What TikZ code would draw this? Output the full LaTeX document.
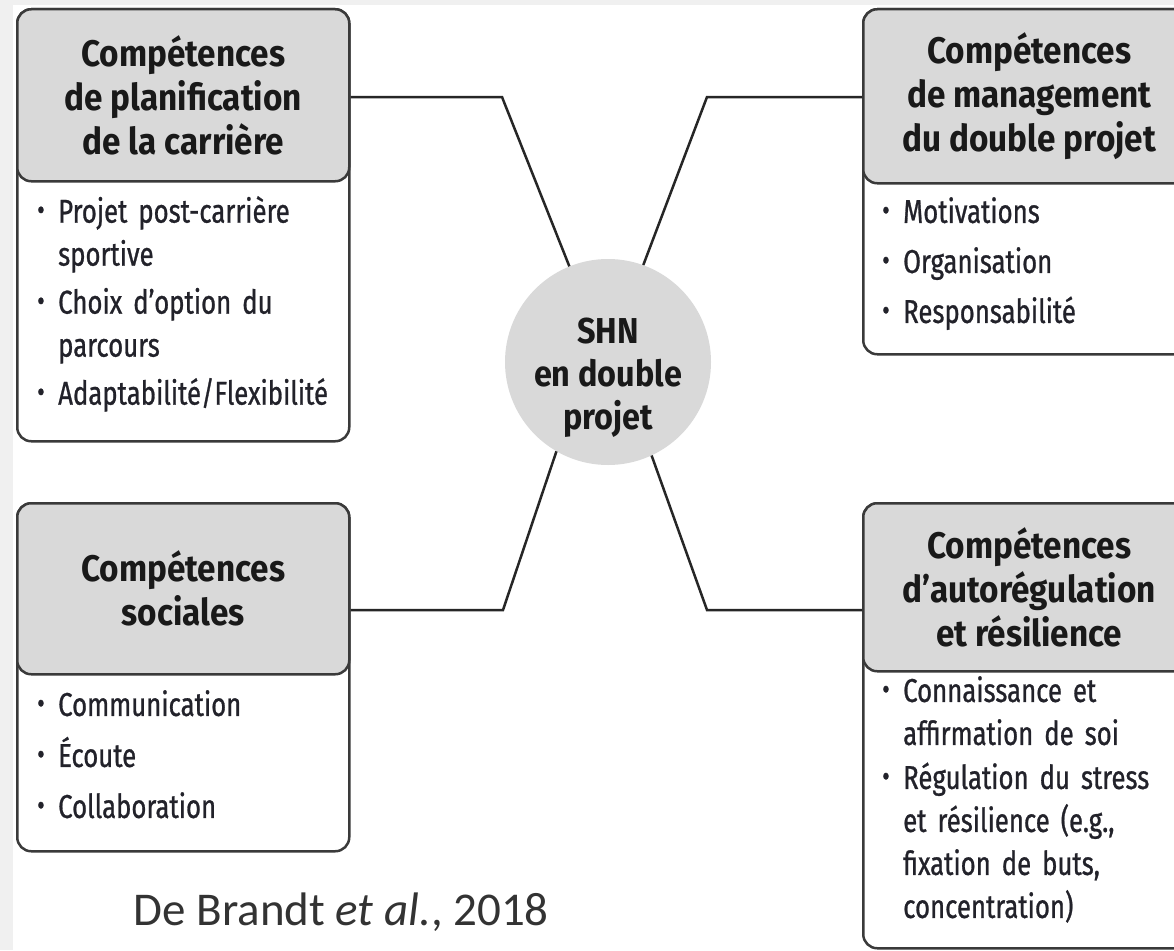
\documentclass[tikz,border=0pt]{standalone}
\usepackage{graphicx}
\usepackage{fontspec}
\setmainfont{Fira Sans}[FakeStretch=0.78,FakeBold=0.8]
\newfontfamily\titrefont{Fira Sans}[FakeStretch=0.9]
\newfontfamily\citefont{Carlito}
\usetikzlibrary{positioning}

\definecolor{cadre}{HTML}{3A3A3A}
\definecolor{entete}{HTML}{D9D9D9}
\definecolor{fond}{HTML}{F0F0F0}
\definecolor{texte}{HTML}{22222A}

% une puce de liste avec retrait
\newcommand{\puce}[1]{\hangindent=21pt\hangafter=1\noindent\makebox[21pt][l]{\raisebox{0.15ex}{\scalebox{0.9}{\textbullet}}}#1\par}

\begin{document}
\begin{tikzpicture}[x=1pt,y=-1pt,
	corps/.style={draw=cadre,line width=2.5pt,fill=white,rounded corners=14pt,
		minimum width=332pt,anchor=north west,inner sep=0pt},
	entete/.style={draw=cadre,line width=2.5pt,fill=entete,rounded corners=14pt,
		minimum width=332pt,anchor=north west,inner sep=0pt,align=center,
		text=black!90,font=\titrefont\bfseries\fontsize{37}{44}\selectfont},
	liste/.style={anchor=north west,inner sep=0pt,text width=330pt,align=left,
		text=texte,font=\fontsize{33}{43}\selectfont\setlength{\parskip}{5pt}},
	lien/.style={line width=2.5pt,black!85}]

	\useasboundingbox (0,0) rectangle (1174,950);
	\clip (0,0) rectangle (1174,950);
	\fill[fond] (0,0) rectangle (1174,950);
	\fill[white] (13,5) rectangle (1174,950);

	% en haut a gauche
	\node[corps,minimum height=432pt] (planB) at (16,8) {};
	\node[entete,minimum height=172pt] (planH) at (16,8) {Compétences\\de planification\\de la carrière};
	\node[liste] (planL) at (37,196) {\puce{Projet post-carrière\newline sportive}\puce{Choix d’option du\newline parcours}\puce{Adaptabilité/Flexibilité}};

	% en haut a droite
	\node[corps,minimum height=345pt] (mgmtB) at (862,8) {};
	\node[entete,minimum height=174pt] (mgmtH) at (862,8) {Compétences\\de management\\du double projet};
	\node[liste,font=\fontsize{33}{43}\selectfont\setlength{\parskip}{7pt}] (mgmtL) at (882,197) {\puce{Motivations}\puce{Organisation}\puce{Responsabilité}};

	% en bas a gauche
	\node[corps,minimum height=348pt] (socB) at (16,502) {};
	\node[entete,minimum height=171pt] (socH) at (16,502) {Compétences\\sociales};
	\node[liste,font=\fontsize{33}{43}\selectfont\setlength{\parskip}{8pt}] (socL) at (37,690) {\puce{Communication}\puce{Écoute}\puce{Collaboration}};

	% en bas a droite
	\node[corps,minimum height=445pt] (autoB) at (862,502) {};
	\node[entete,minimum height=168pt] (autoH) at (862,502) {Compétences\\d’autorégulation\\et résilience};
	\node[liste,font=\fontsize{33}{43}\selectfont\setlength{\parskip}{1pt}] (autoL) at (882,676) {\puce{Connaissance et\newline affirmation de soi}\puce{Régulation du stress\newline et résilience (e.g.,\newline fixation de buts,\newline concentration)}};

	% le centre
	\node[circle,fill=entete,minimum size=206pt,inner sep=0pt] (shn) at (608,362) {};
	\node[align=center,inner sep=0pt,font=\titrefont\bfseries\fontsize{36}{43}\selectfont,
		text=black!90] (shnT) at (608,378) {SHN\\en double\\projet};

	% les liens
	\coordinate (tlBend) at (502,97);
	\coordinate (trBend) at (707,97);
	\coordinate (blBend) at (503,610);
	\coordinate (brBend) at (707,610);
	\draw[lien] (planB.east |- tlBend) -- (tlBend) -- (shn.112);
	\draw[lien] (mgmtB.west |- trBend) -- (trBend) -- (shn.70);
	\draw[lien] (socB.east |- blBend) -- (blBend) -- (shn.240);
	\draw[lien] (autoB.west |- brBend) -- (brBend) -- (shn.295);

	\node[anchor=base west,font=\citefont\fontsize{47}{50}\selectfont,text=black!80] (ref) at (130,925) {De Brandt \textit{et al.}, 2018};
\end{tikzpicture}
\end{document}
